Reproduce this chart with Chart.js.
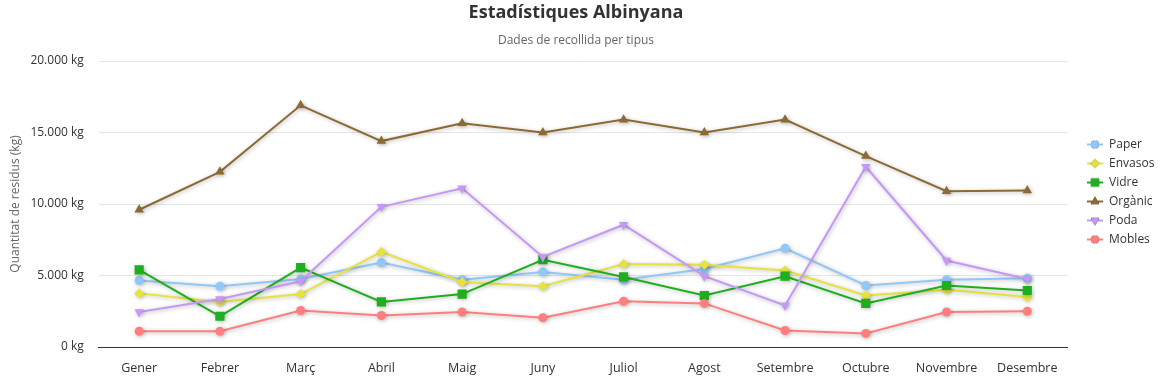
<!DOCTYPE html>
<html>
<head>
<meta charset="utf-8">
<script src="https://cdn.jsdelivr.net/npm/chart.js@4/dist/chart.umd.min.js"></script>
<style>
html,body{margin:0;padding:0;background:#fff;}
#wrap{width:1163px;height:380px;position:relative;}
</style>
</head>
<body>
<div id="wrap"><canvas id="c" width="1163" height="380"></canvas></div>
<script>
const categories = ['Gener','Febrer','Març','Abril','Maig','Juny','Juliol','Agost','Setembre','Octubre','Novembre','Desembre'];
const paper   = [4650, 4250, 4750, 5900, 4700, 5250, 4700, 5450, 6900, 4300, 4700, 4800];
const envasos = [3750, 3150, 3700, 6650, 4550, 4250, 5800, 5750, 5350, 3600, 4000, 3500];
const vidre   = [5400, 2150, 5550, 3150, 3700, 6100, 4900, 3600, 4950, 3050, 4300, 3950];
const organic = [9600, 12250, 16900, 14400, 15650, 15000, 15900, 15000, 15900, 13350, 10900, 10950];
const poda    = [2450, 3350, 4600, 9800, 11100, 6300, 8550, 4950, 2900, 12600, 6050, 4750];
const mobles  = [1100, 1100, 2550, 2200, 2450, 2050, 3200, 3050, 1150, 950, 2450, 2500];
const yTicks  = [0, 5000, 10000, 15000, 20000];

const FONT = "'Open Sans', 'Noto Sans', sans-serif";

const seriesDefs = [
  {label:'Paper',   data:paper,   color:'#90c8f8', style:'circle',   rot:0,   r:4.5},
  {label:'Envasos', data:envasos, color:'#e6e33c', style:'rectRot',  rot:0,   r:5},
  {label:'Vidre',   data:vidre,   color:'#1fae1f', style:'rect',     rot:0,   r:6.5},
  {label:'Orgànic', data:organic, color:'#8b6a34', style:'triangle', rot:0,   r:5.5},
  {label:'Poda',    data:poda,    color:'#c598f6', style:'triangle', rot:180, r:5.5},
  {label:'Mobles',  data:mobles,  color:'#ff7f7f', style:'circle',   rot:0,   r:4.5}
];

function fmt(v){ return String(v).replace(/\B(?=(\d{3})+(?!\d))/g, '.') + ' kg'; }

function legendIcon(def){
  const cv = document.createElement('canvas');
  cv.width = 16; cv.height = 12;
  const ctx = cv.getContext('2d');
  ctx.strokeStyle = def.color; ctx.lineWidth = 2;
  ctx.beginPath(); ctx.moveTo(0, 6); ctx.lineTo(16, 6); ctx.stroke();
  Chart.helpers.drawPoint(ctx, {pointStyle:def.style, rotation:def.rot, radius:def.r*0.9, borderWidth:0}, 8, 6);
  ctx.fillStyle = def.color;
  ctx.fill();
  return cv;
}

const shadowPlugin = {
  id:'shadow',
  beforeDatasetDraw(chart){
    const ctx = chart.ctx; ctx.save();
    ctx.shadowColor = 'rgba(0,0,0,0.28)';
    ctx.shadowBlur = 4; ctx.shadowOffsetX = 1; ctx.shadowOffsetY = 1;
  },
  afterDatasetDraw(chart){ chart.ctx.restore(); }
};

const legendMove = {
  id:'legendMove',
  afterLayout(chart){
    const lg = chart.legend;
    const w = lg.width;
    lg.left = 1080; lg.right = 1080 + w;
    lg.top = 2; lg.bottom = 382;
  }
};

const n = seriesDefs.length;
const datasets = seriesDefs.map((d, i) => ({
  label: d.label,
  data: d.data,
  borderColor: d.color,
  backgroundColor: d.color,
  pointBackgroundColor: d.color,
  pointBorderColor: d.color,
  pointBorderWidth: 0,
  pointStyle: d.style,
  pointRotation: d.rot,
  pointRadius: d.r,
  borderWidth: 2,
  tension: 0,
  fill: false,
  order: n - i
}));

new Chart(document.getElementById('c'), {
  type: 'line',
  data: { labels: categories, datasets },
  plugins: [shadowPlugin, legendMove],
  options: {
    responsive: false,
    animation: false,
    layout: { padding: { left: 0, right: 11, top: 0, bottom: -10 } },
    plugins: {
      title: { display: true, text: 'Estadístiques Albinyana', color: '#333333',
        font: { family: FONT, size: 18, weight: 'bold' }, padding: { top: 2, bottom: 3 } },
      subtitle: { display: true, text: 'Dades de recollida per tipus', color: '#666666',
        font: { family: FONT, size: 12 }, padding: { top: 7, bottom: 13 } },
      legend: {
        position: 'right', align: 'center',
        labels: {
          usePointStyle: true, pointStyleWidth: 16, padding: 7, color: '#333333',
          font: { family: FONT, size: 12 },
          generateLabels(chart){
            return seriesDefs.map((d, i) => ({
              text: d.label, fillStyle: d.color, strokeStyle: d.color, lineWidth: 0,
              pointStyle: legendIcon(d), datasetIndex: i, hidden: false, fontColor: '#333333'
            }));
          }
        }
      },
      tooltip: { enabled: false }
    },
    scales: {
      x: {
        offset: true,
        grid: { display: false, drawTicks: false },
        border: { display: true, color: '#333333', width: 1 },
        ticks: { color: '#333333', font: { family: FONT, size: 12.5 }, padding: 14, maxRotation: 0 }
      },
      y: {
        min: 0, max: 20000,
        afterBuildTicks(scale){ scale.ticks = yTicks.map(v => ({ value: v })); },
        grid: { color: '#e6e6e6', drawTicks: false },
        border: { display: false },
        ticks: { color: '#333333', font: { family: FONT, size: 12 }, padding: 15, callback: v => fmt(v) },
        title: { display: true, text: 'Quantitat de residus (kg)', color: '#666666',
          font: { family: FONT, size: 12 }, padding: { top: 8, bottom: -7 } }
      }
    }
  }
});
</script>
</body>
</html>
